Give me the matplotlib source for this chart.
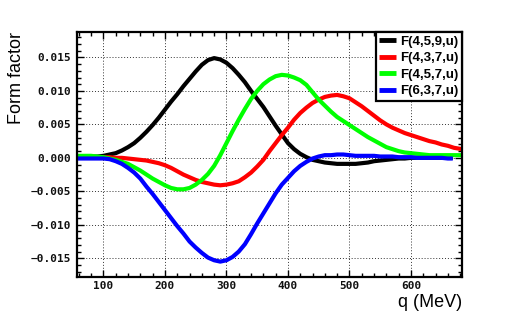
import matplotlib
matplotlib.use("Agg")
import matplotlib.pyplot as plt
from matplotlib.ticker import MultipleLocator

q_full = [58] + list(range(70, 680, 10)) + [683]     # red / green reach the frame
q_short = [58] + list(range(70, 670, 10)) + [668]    # black / blue stop a bit earlier

f459 = [0.0002, 0.0002, 0.0002, 0.0002,
        0.0003, 0.0005, 0.0007, 0.0011, 0.0016, 0.0022, 0.0030, 0.0039, 0.0049, 0.0060,
        0.0072, 0.0084, 0.0095, 0.0107, 0.0118, 0.0129, 0.0139, 0.0146, 0.0149, 0.0147,
        0.0142, 0.0134, 0.0124, 0.0113, 0.0100, 0.0088, 0.0076, 0.0062, 0.0048, 0.0035,
        0.0022, 0.0013, 0.0006, 0.0001, -0.0003, -0.0005, -0.0007, -0.0008, -0.0009, -0.0009,
        -0.0009, -0.0009, -0.0008, -0.0007, -0.0005, -0.0004, -0.0003, -0.0002, -0.0001, -0.0001,
        0.0000, 0.0000, 0.0000, 0.0000, 0.0000, 0.0000, 0.0000,
        0.0000]
f437 = [0.0000, 0.0001, 0.0001, 0.0001,
        0.0001, 0.0001, 0.0000, 0.0000, -0.0001, -0.0002, -0.0003, -0.0004, -0.0006, -0.0008,
        -0.0011, -0.0015, -0.0020, -0.0025, -0.0029, -0.0033, -0.0036, -0.0038, -0.0040, -0.0041,
        -0.0040, -0.0038, -0.0035, -0.0029, -0.0022, -0.0013, -0.0003, 0.0010, 0.0022, 0.0034,
        0.0045, 0.0057, 0.0067, 0.0075, 0.0082, 0.0087, 0.0091, 0.0093, 0.0094, 0.0092,
        0.0089, 0.0083, 0.0077, 0.0070, 0.0063, 0.0056, 0.0050, 0.0045, 0.0041, 0.0037,
        0.0034, 0.0031, 0.0028, 0.0025, 0.0023, 0.0020, 0.0018, 0.0015,
        0.0013]
f457 = [0.0003, 0.0003, 0.0003, 0.0002,
        0.0001, -0.0001, -0.0003, -0.0006, -0.0009, -0.0014, -0.0019, -0.0025, -0.0031, -0.0036,
        -0.0041, -0.0045, -0.0047, -0.0047, -0.0045, -0.0040, -0.0033, -0.0024, -0.0012, 0.0004,
        0.0022, 0.0040, 0.0057, 0.0073, 0.0088, 0.0100, 0.0110, 0.0117, 0.0122, 0.0124,
        0.0123, 0.0120, 0.0116, 0.0109, 0.0098, 0.0087, 0.0078, 0.0069, 0.0061, 0.0055,
        0.0049, 0.0043, 0.0037, 0.0031, 0.0026, 0.0021, 0.0016, 0.0013, 0.0010, 0.0008,
        0.0007, 0.0006, 0.0005, 0.0004, 0.0004, 0.0004, 0.0004, 0.0004,
        0.0004]
f637 = [-0.0001, -0.0001, -0.0001, -0.0001,
        -0.0001, -0.0002, -0.0005, -0.0009, -0.0015, -0.0022, -0.0031, -0.0043, -0.0054, -0.0066,
        -0.0078, -0.0090, -0.0102, -0.0113, -0.0125, -0.0134, -0.0142, -0.0149, -0.0153, -0.0155,
        -0.0153, -0.0148, -0.0140, -0.0129, -0.0114, -0.0098, -0.0083, -0.0068, -0.0053, -0.0040,
        -0.0030, -0.0020, -0.0012, -0.0006, -0.0001, 0.0002, 0.0004, 0.0004, 0.0005, 0.0005,
        0.0004, 0.0003, 0.0003, 0.0003, 0.0003, 0.0002, 0.0002, 0.0002, 0.0001, 0.0001,
        0.0001, 0.0000, 0.0000, 0.0000, 0.0000, 0.0000, -0.0001,
        -0.0001]

series = [
    ("F(4,5,9,u)", q_short, f459, "#000000"),
    ("F(4,3,7,u)", q_full, f437, "#ff0000"),
    ("F(4,5,7,u)", q_full, f457, "#00ff00"),
    ("F(6,3,7,u)", q_short, f637, "#0000ff"),
]
for _, xs, ys, _c in series:
    assert len(xs) == len(ys), (len(xs), len(ys))

x_ticks = [100, 200, 300, 400, 500, 600]
y_ticks = [-0.015, -0.010, -0.005, 0.000, 0.005, 0.010, 0.015]
y_tick_labels = ["\u22120.015", "\u22120.010", "\u22120.005", "0.000", "0.005", "0.010", "0.015"]

# ---- figure ----
fig = plt.figure(figsize=(5.14, 3.27), dpi=100)
ax = fig.add_axes([77 / 514, 50 / 327, (462 - 77) / 514, (277 - 32) / 327])

for label, xs, ys, col in series:
    ax.plot(xs, ys, color=col, lw=3.0, label=label, solid_capstyle="butt",
            solid_joinstyle="round")

ax.set_xlim(57, 683)
ax.set_ylim(-0.0178, 0.0188)

ax.set_xticks(x_ticks)
ax.set_xticklabels([str(v) for v in x_ticks])
ax.set_yticks(y_ticks)
ax.set_yticklabels(y_tick_labels)
ax.xaxis.set_minor_locator(MultipleLocator(20))
ax.yaxis.set_minor_locator(MultipleLocator(0.001))

ax.tick_params(which="both", direction="in", top=True, right=True, width=1.0, color="black")
ax.tick_params(which="major", length=5)
ax.tick_params(which="minor", length=3)
ax.tick_params(axis="x", which="major", pad=3)
ax.tick_params(axis="y", which="major", pad=4)
for lab in ax.get_xticklabels() + ax.get_yticklabels():
    lab.set_fontfamily("DejaVu Sans Mono")
    lab.set_fontweight("bold")
    lab.set_fontsize(8)
    lab.set_color("#111111")

for sp in ax.spines.values():
    sp.set_linewidth(1.6)

ax.grid(True, which="major", color="#333333", lw=0.7, linestyle=(0, (1, 2)))

ax.set_xlabel("q (MeV)", fontsize=13, fontfamily="Liberation Sans", loc="right", labelpad=2)
ax.set_ylabel("Form factor", fontsize=13, fontfamily="Liberation Sans", loc="top")
ax.yaxis.set_label_coords(-0.135, 1.0)

leg = ax.legend(loc="upper right", bbox_to_anchor=(1.0, 1.0), borderaxespad=0,
                prop={"family": "Liberation Sans", "weight": "bold", "size": 9.5},
                handlelength=1.25, handletextpad=0.35, labelspacing=0.33,
                borderpad=0.25, fancybox=False, framealpha=1, edgecolor="black")
leg.get_frame().set_linewidth(1.6)
for h in leg.get_lines():
    h.set_linewidth(3.5)

fig.savefig("out.png", dpi=100)
